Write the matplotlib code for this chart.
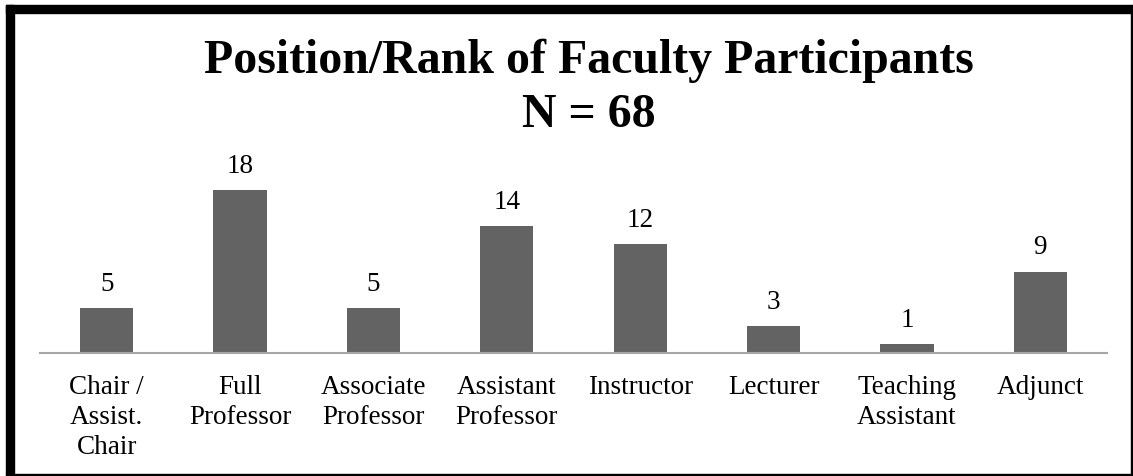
import matplotlib.pyplot as plt
from matplotlib.patches import Rectangle

categories = ["Chair /\nAssist.\nChair", "Full\nProfessor", "Associate\nProfessor",
              "Assistant\nProfessor", "Instructor", "Lecturer", "Teaching\nAssistant", "Adjunct"]
counts = [5, 18, 5, 14, 12, 3, 1, 9]

plt.rcParams["font.family"] = ["Liberation Serif"]

W, H = 1133, 476
fig = plt.figure(figsize=(W / 100, H / 100), dpi=100)

# axes placed in pixel terms: baseline at y=353, plot from x=40 to 1107
ax = fig.add_axes([40 / W, 1 - 353 / H, 1067 / W, 203 / H])
x = range(len(categories))
ax.bar(x, counts, width=0.4, color="#636363")
ax.set_xlim(-0.5, len(categories) - 0.5)
ax.set_ylim(0, 203 / 9.05)

for xi, v in zip(x, counts):
    ax.annotate(str(v), (xi, v), xytext=(0, 8), textcoords="offset points",
                ha="center", va="bottom", fontsize=19.5)

ax.set_xticks(list(x))
ax.set_xticklabels(categories, fontsize=19.5, linespacing=1.25)
ax.tick_params(axis="x", length=0, pad=16)
ax.set_yticks([])
for s in ["top", "left", "right"]:
    ax.spines[s].set_visible(False)
ax.spines["bottom"].set_color("#a6a6a6")
ax.spines["bottom"].set_linewidth(1.5)

title_x = 589 / W
fig.text(title_x, 1 - 73 / H, "Position/Rank of Faculty Participants", ha="center",
         va="baseline", fontsize=34.5, fontweight="bold")
fig.text(title_x, 1 - 127 / H, "N = 68", ha="center", va="baseline",
         fontsize=34.5, fontweight="bold")

# frame: heavy top/left edges, thin right/bottom
fig.patches.append(Rectangle((6 / W, 1 - 475 / H), 8 / W, 470 / H, transform=fig.transFigure,
                             color="black"))
fig.patches.append(Rectangle((6 / W, 1 - 13 / H), 1126 / W, 8 / H, transform=fig.transFigure,
                             color="black"))
fig.patches.append(Rectangle((1131 / W, 1 - 475 / H), 1 / W, 470 / H, transform=fig.transFigure,
                             color="black"))
fig.patches.append(Rectangle((6 / W, 1 - 475 / H), 1126 / W, 1 / H, transform=fig.transFigure,
                             color="black"))

fig.savefig("out.png", dpi=100)
